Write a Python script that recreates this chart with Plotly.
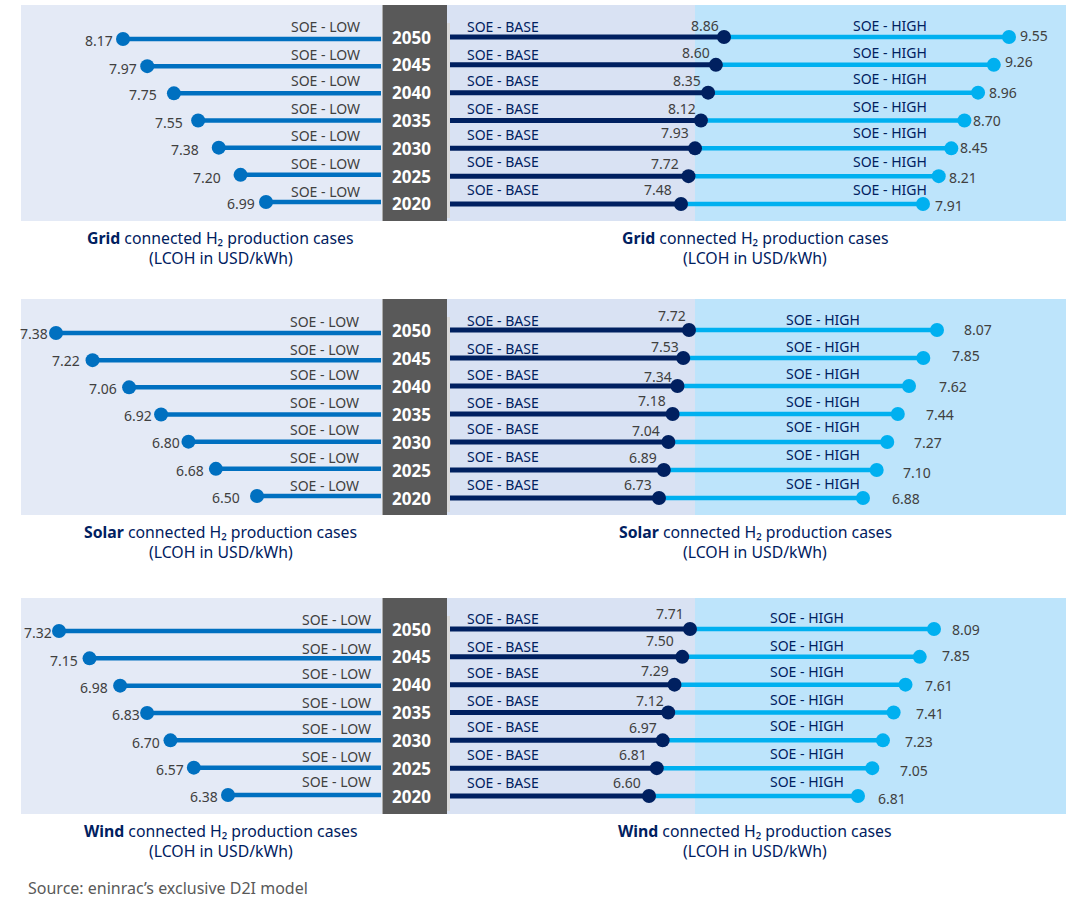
import plotly.graph_objects as go

YEARS = [2050, 2045, 2040, 2035, 2030, 2025, 2020]
GRID_LOW = [8.17, 7.97, 7.75, 7.55, 7.38, 7.20, 6.99]
GRID_BASE = [8.86, 8.60, 8.35, 8.12, 7.93, 7.72, 7.48]
GRID_HIGH = [9.55, 9.26, 8.96, 8.70, 8.45, 8.21, 7.91]
SOLAR_LOW = [7.38, 7.22, 7.06, 6.92, 6.80, 6.68, 6.50]
SOLAR_BASE = [7.72, 7.53, 7.34, 7.18, 7.04, 6.89, 6.73]
SOLAR_HIGH = [8.07, 7.85, 7.62, 7.44, 7.27, 7.10, 6.88]
WIND_LOW = [7.32, 7.15, 6.98, 6.83, 6.70, 6.57, 6.38]
WIND_BASE = [7.71, 7.50, 7.29, 7.12, 6.97, 6.81, 6.60]
WIND_HIGH = [8.09, 7.85, 7.61, 7.41, 7.23, 7.05, 6.81]
SOURCES = ["Grid", "Solar", "Wind"]
LOW_NAME, BASE_NAME, HIGH_NAME = "SOE - LOW", "SOE - BASE", "SOE - HIGH"
SOURCE_NOTE = "Source: eninrac’s exclusive D2I model"
LINE1 = " connected H₂ production cases"
LINE2 = "(LCOH in USD/kWh)"

W, H = 1084, 908
FONT = "Noto Sans"
C_LOW, C_BASE, C_HIGH = "#0070C0", "#002060", "#00B0F0"
BG_LOW, BG_BASE, BG_HIGH, BG_YEAR = "#E4EAF6", "#D9E2F3", "#BDE4FB", "#595959"
TXT, TITLE = "#404040", "#002060"

# panel layout: pixel calibration of the axes and pixel placement of the labels
PANELS = [
    dict(top=5, low=GRID_LOW, base=GRID_BASE, high=GRID_HIGH,
         cal_low=(8.17, 123, 6.99, 266), cal_base=(8.86, 724, 7.48, 681), cal_high=(9.55, 1009, 7.91, 923),
         rows_left=(34, 197), rows_right=(32, 199),
         low_x=325, base_x=503, high_x=890,
         low_name_y=[27, 55, 81, 109, 135, 163, 191],
         base_name_y=[26, 54, 80, 108, 134, 162, 190],
         high_name_y=[25, 53, 79, 107, 133, 161, 189],
         low_val=([99, 123, 143, 169, 185, 207, 241], [40, 68, 95, 122, 149, 177, 203]),
         base_val=([705, 696, 687, 682, 675, 665, 658], [25, 52, 80, 108, 133, 163, 190]),
         high_val=([1034, 1019, 1003, 987, 974, 963, 949], [35, 62, 93, 121, 148, 178, 205])),
    dict(top=299, low=SOLAR_LOW, base=SOLAR_BASE, high=SOLAR_HIGH,
         cal_low=(7.38, 56, 6.50, 257), cal_base=(7.72, 689, 6.73, 659), cal_high=(8.07, 937, 6.88, 863),
         rows_left=(34, 197), rows_right=(31, 199),
         low_x=324, base_x=503, high_x=823,
         low_name_y=[321, 349, 375, 403, 429, 457, 485],
         base_name_y=[320, 348, 374, 402, 428, 456, 484],
         high_name_y=[319, 347, 373, 401, 427, 455, 483],
         low_val=([34, 66, 103, 138, 166, 190, 226], [333, 361, 389, 415, 442, 470, 497]),
         base_val=([672, 665, 658, 652, 646, 643, 638], [315, 347, 376, 400, 430, 457, 484]),
         high_val=([978, 966, 953, 940, 928, 917, 906], [329, 356, 386, 414, 442, 472, 498])),
    dict(top=598, low=WIND_LOW, base=WIND_BASE, high=WIND_HIGH,
         cal_low=(7.32, 59, 6.38, 228), cal_base=(7.71, 690, 6.60, 649), cal_high=(8.09, 934, 6.81, 858),
         rows_left=(33, 197), rows_right=(31, 198),
         low_x=336, base_x=503, high_x=807,
         low_name_y=[619, 648, 673, 702, 728, 756, 781],
         base_name_y=[618, 646, 672, 700, 726, 754, 782],
         high_name_y=[617, 645, 671, 699, 725, 753, 781],
         low_val=([38, 64, 94, 126, 146, 170, 204], [632, 660, 687, 714, 742, 769, 796]),
         base_val=([670, 660, 655, 650, 643, 633, 627], [613, 640, 670, 700, 727, 754, 782]),
         high_val=([966, 956, 939, 930, 919, 914, 892], [629, 655, 685, 713, 741, 770, 798])),
]


def inv(cal, px):
    v1, p1, v2, p2 = cal
    return v1 + (px - p1) * (v2 - v1) / (p2 - p1)


def fwd(cal, v):
    v1, p1, v2, p2 = cal
    return p1 + (v - v1) * (p2 - p1) / (v2 - v1)


def yrange(rows, h=216):
    r0, r1 = rows
    per = (YEARS[0] - YEARS[-1]) / (r1 - r0)
    return [YEARS[-1] - (h - r1) * per, YEARS[0] + r0 * per]


fig = go.Figure()
layout = {}
shapes = []
ann = []


def rect(x0, x1, y0, y1, color):
    shapes.append(dict(type="rect", xref="paper", yref="paper", layer="below", line_width=0,
                       x0=x0 / W, x1=x1 / W, y0=1 - y1 / H, y1=1 - y0 / H, fillcolor=color))


def text(px, py, s, size=14, color=TXT, xanchor="center"):
    ann.append(dict(x=px / W, y=1 - py / H, text=s, xref="paper", yref="paper", showarrow=False,
                    xanchor=xanchor, yanchor="middle", align="center",
                    font=dict(family=FONT, size=size, color=color)))


for i, p in enumerate(PANELS):
    top = p["top"]
    rect(21, 382, top, top + 216, BG_LOW)
    rect(447, 695, top, top + 216, BG_BASE)
    rect(695, 1066, top, top + 216, BG_HIGH)
    rect(382.5, 447, top, top + 216, BG_YEAR)
    rect(447, 450, top + 18, top + 213, "#D9D9D9")

    xl, xh, xb = 3 * i + 1, 3 * i + 2, 3 * i + 3   # high before base so base markers sit on top
    yl, yr = 2 * i + 1, 2 * i + 2
    n = lambda k: "" if k == 1 else str(k)
    hide = dict(visible=False, fixedrange=True)
    dom_y = [1 - (top + 216) / H, 1 - top / H]

    layout[f"yaxis{n(yl)}"] = dict(domain=dom_y, range=yrange(p["rows_left"]), anchor=f"x{n(xl)}", **hide)
    layout[f"yaxis{n(yr)}"] = dict(domain=dom_y, range=yrange(p["rows_right"]), anchor=f"x{n(xb)}", **hide)

    low_r = [inv(p["cal_low"], 21), inv(p["cal_low"], 381)]
    base_r = [inv(p["cal_base"], 450), inv(p["cal_base"], 1066)]
    high_r = [inv(p["cal_high"], 450), inv(p["cal_high"], 1066)]
    layout[f"xaxis{n(xl)}"] = dict(domain=[21 / W, 381 / W], range=low_r, anchor=f"y{n(yl)}", **hide)
    layout[f"xaxis{n(xh)}"] = dict(domain=[450 / W, 1066 / W], range=high_r, anchor=f"y{n(yr)}", **hide)
    layout[f"xaxis{n(xb)}"] = dict(domain=[450 / W, 1066 / W], range=base_r, anchor=f"y{n(yr)}", **hide)

    common = dict(showlegend=False, hoverinfo="skip", cliponaxis=False, mode="lines")
    for j, year in enumerate(YEARS):
        lo, ba, hi = p["low"][j], p["base"][j], p["high"][j]
        fig.add_trace(go.Scatter(x=[lo, low_r[1]], y=[year, year], xaxis=f"x{n(xl)}", yaxis=f"y{n(yl)}",
                                 line=dict(color=C_LOW, width=4.5), **common))
        start = inv(p["cal_high"], fwd(p["cal_base"], ba))
        fig.add_trace(go.Scatter(x=[start, hi], y=[year, year], xaxis=f"x{n(xh)}", yaxis=f"y{n(yr)}",
                                 line=dict(color=C_HIGH, width=4.5), **common))
        fig.add_trace(go.Scatter(x=[base_r[0], ba], y=[year, year], xaxis=f"x{n(xb)}", yaxis=f"y{n(yr)}",
                                 line=dict(color=C_BASE, width=5), **common))

        text(p["low_x"], p["low_name_y"][j], LOW_NAME)
        text(p["base_x"], p["base_name_y"][j], BASE_NAME, color=C_BASE)
        text(p["high_x"], p["high_name_y"][j], HIGH_NAME, color=C_BASE)
        text(p["low_val"][0][j], p["low_val"][1][j], f"{lo:.2f}")
        text(p["base_val"][0][j], p["base_val"][1][j], f"{ba:.2f}")
        text(p["high_val"][0][j], p["high_val"][1][j], f"{hi:.2f}")
        ry0, ry1 = p["rows_right"]
        text(411, top + ry0 + (YEARS[0] - year) * (ry1 - ry0) / (YEARS[0] - YEARS[-1]),
             f"<b>{year}</b>", size=17, color="#FFFFFF")

    for vals, xa, ya, col in ((p["low"], xl, yl, C_LOW), (p["high"], xh, yr, C_HIGH), (p["base"], xb, yr, C_BASE)):
        fig.add_trace(go.Scatter(x=vals, y=YEARS, xaxis=f"x{n(xa)}", yaxis=f"y{n(ya)}", mode="markers",
                                 marker=dict(color=col, size=14), showlegend=False, cliponaxis=False))

    for cx in (221, 755):
        text(cx, top + 233, f"<b>{SOURCES[i]}</b>{LINE1}", size=15.8, color=TITLE)
        text(cx, top + 253, LINE2, size=15.8, color=TITLE)

text(26, 888, SOURCE_NOTE, size=16, color="#595959", xanchor="left")

fig.update_layout(width=W, height=H, margin=dict(l=0, r=0, t=0, b=0), paper_bgcolor="#FFFFFF",
                  plot_bgcolor="rgba(0,0,0,0)", showlegend=False, shapes=shapes, annotations=ann,
                  font=dict(family=FONT), **layout)
fig.write_html("out.html", config=dict(displayModeBar=False),
               post_script="document.body.style.margin='0';")
